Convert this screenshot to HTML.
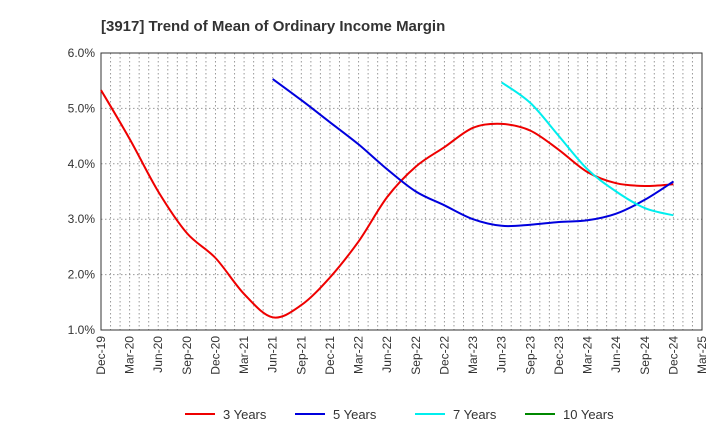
<!DOCTYPE html>
<html><head><meta charset="utf-8"><style>
body{margin:0;background:#fff;font-family:"Liberation Sans",Arial,sans-serif}
</style></head><body>
<svg width="720" height="440" xmlns="http://www.w3.org/2000/svg" font-family="Liberation Sans, Arial, sans-serif">
<text x="101" y="31" font-size="15" font-weight="bold" fill="#333">[3917]  Trend of Mean of Ordinary Income Margin</text>
<g id="grid"></g><g id="axes"></g><g id="series"></g><g id="legend"></g>
</svg>
<script>
const xLabels=["Dec-19","Mar-20","Jun-20","Sep-20","Dec-20","Mar-21","Jun-21","Sep-21","Dec-21","Mar-22","Jun-22","Sep-22","Dec-22","Mar-23","Jun-23","Sep-23","Dec-23","Mar-24","Jun-24","Sep-24","Dec-24","Mar-25"];
const yTicks=[1,2,3,4,5,6];
const y3=[5.33,4.45,3.5,2.75,2.3,1.65,1.23,1.45,1.95,2.6,3.4,3.95,4.3,4.65,4.72,4.6,4.25,3.85,3.65,3.6,3.63];
const y5=[null,null,null,null,null,null,5.53,5.15,4.75,4.35,3.9,3.5,3.25,3.0,2.88,2.9,2.95,2.98,3.1,3.35,3.68];
const y7=[null,null,null,null,null,null,null,null,null,null,null,null,null,null,5.47,5.1,4.5,3.9,3.5,3.2,3.07];
const y10=[];
const L=101,R=702,T=53,B=330;
const xs=i=>L+(R-L)*i/21, ys=v=>B-(v-1)/5*(B-T);
const NS="http://www.w3.org/2000/svg";
function mk(t,a,p){const e=document.createElementNS(NS,t);for(const k in a)e.setAttribute(k,a[k]);p.appendChild(e);return e;}
const g=document.getElementById('grid'),ax=document.getElementById('axes'),se=document.getElementById('series'),lg=document.getElementById('legend');
for(let m=1;m<63;m++){const x=L+(R-L)*m/63;const l=mk('line',{x1:x,x2:x,y1:T,y2:B,stroke:'#999','stroke-dasharray':'1.5,2.5','stroke-width':1},g);

}
yTicks.forEach(v=>{const y=ys(v);const l=mk('line',{x1:L,x2:R,y1:y,y2:y,stroke:'#999','stroke-dasharray':'1.5,2.5'},g);


const t=mk('text',{x:L-6,y:y+4,'text-anchor':'end','font-size':12,fill:'#333'},ax);t.textContent=v.toFixed(1)+'%';

});
const fr=mk('rect',{x:L,y:T,width:R-L,height:B-T,fill:'none',stroke:'#333','stroke-width':1},ax);


xLabels.forEach((s,i)=>{const x=xs(i);const t=mk('text',{x:x+4,y:B+6,'text-anchor':'end','font-size':12,fill:'#333',transform:`rotate(-90 ${x+4} ${B+6})`},ax);t.textContent=s;

});
function line(d,c,n){const pts=[];d.forEach((v,i)=>{if(v!=null)pts.push([xs(i),ys(v)]);});if(pts.length<2)return;
let p='M'+pts[0][0].toFixed(1)+','+pts[0][1].toFixed(1);
for(let i=0;i<pts.length-1;i++){const p0=pts[Math.max(0,i-1)],p1=pts[i],p2=pts[i+1],p3=pts[Math.min(pts.length-1,i+2)];
const c1=[p1[0]+(p2[0]-p0[0])/6,p1[1]+(p2[1]-p0[1])/6],c2=[p2[0]-(p3[0]-p1[0])/6,p2[1]-(p3[1]-p1[1])/6];
p+=`C${c1[0].toFixed(1)},${c1[1].toFixed(1)} ${c2[0].toFixed(1)},${c2[1].toFixed(1)} ${p2[0].toFixed(1)},${p2[1].toFixed(1)}`;}
const e=mk('path',{d:p,fill:'none',stroke:c,'stroke-width':2,'stroke-linejoin':'round'},se);

}
line(y3,'#ee0000','series-3-years');line(y5,'#0000dd','series-5-years');line(y7,'#00eeee','series-7-years');line(y10,'#008800','series-10-years');
[['3 Years','#ee0000',185],['5 Years','#0000dd',295],['7 Years','#00eeee',415],['10 Years','#008800',525]].forEach(([s,c,x])=>{
const gg=mk('g',{},lg);


mk('line',{x1:x,x2:x+30,y1:414,y2:414,stroke:c,'stroke-width':2},gg);
const t=mk('text',{x:x+38,y:419,'font-size':13,fill:'#333'},gg);t.textContent=s;});
</script>
</body></html>
